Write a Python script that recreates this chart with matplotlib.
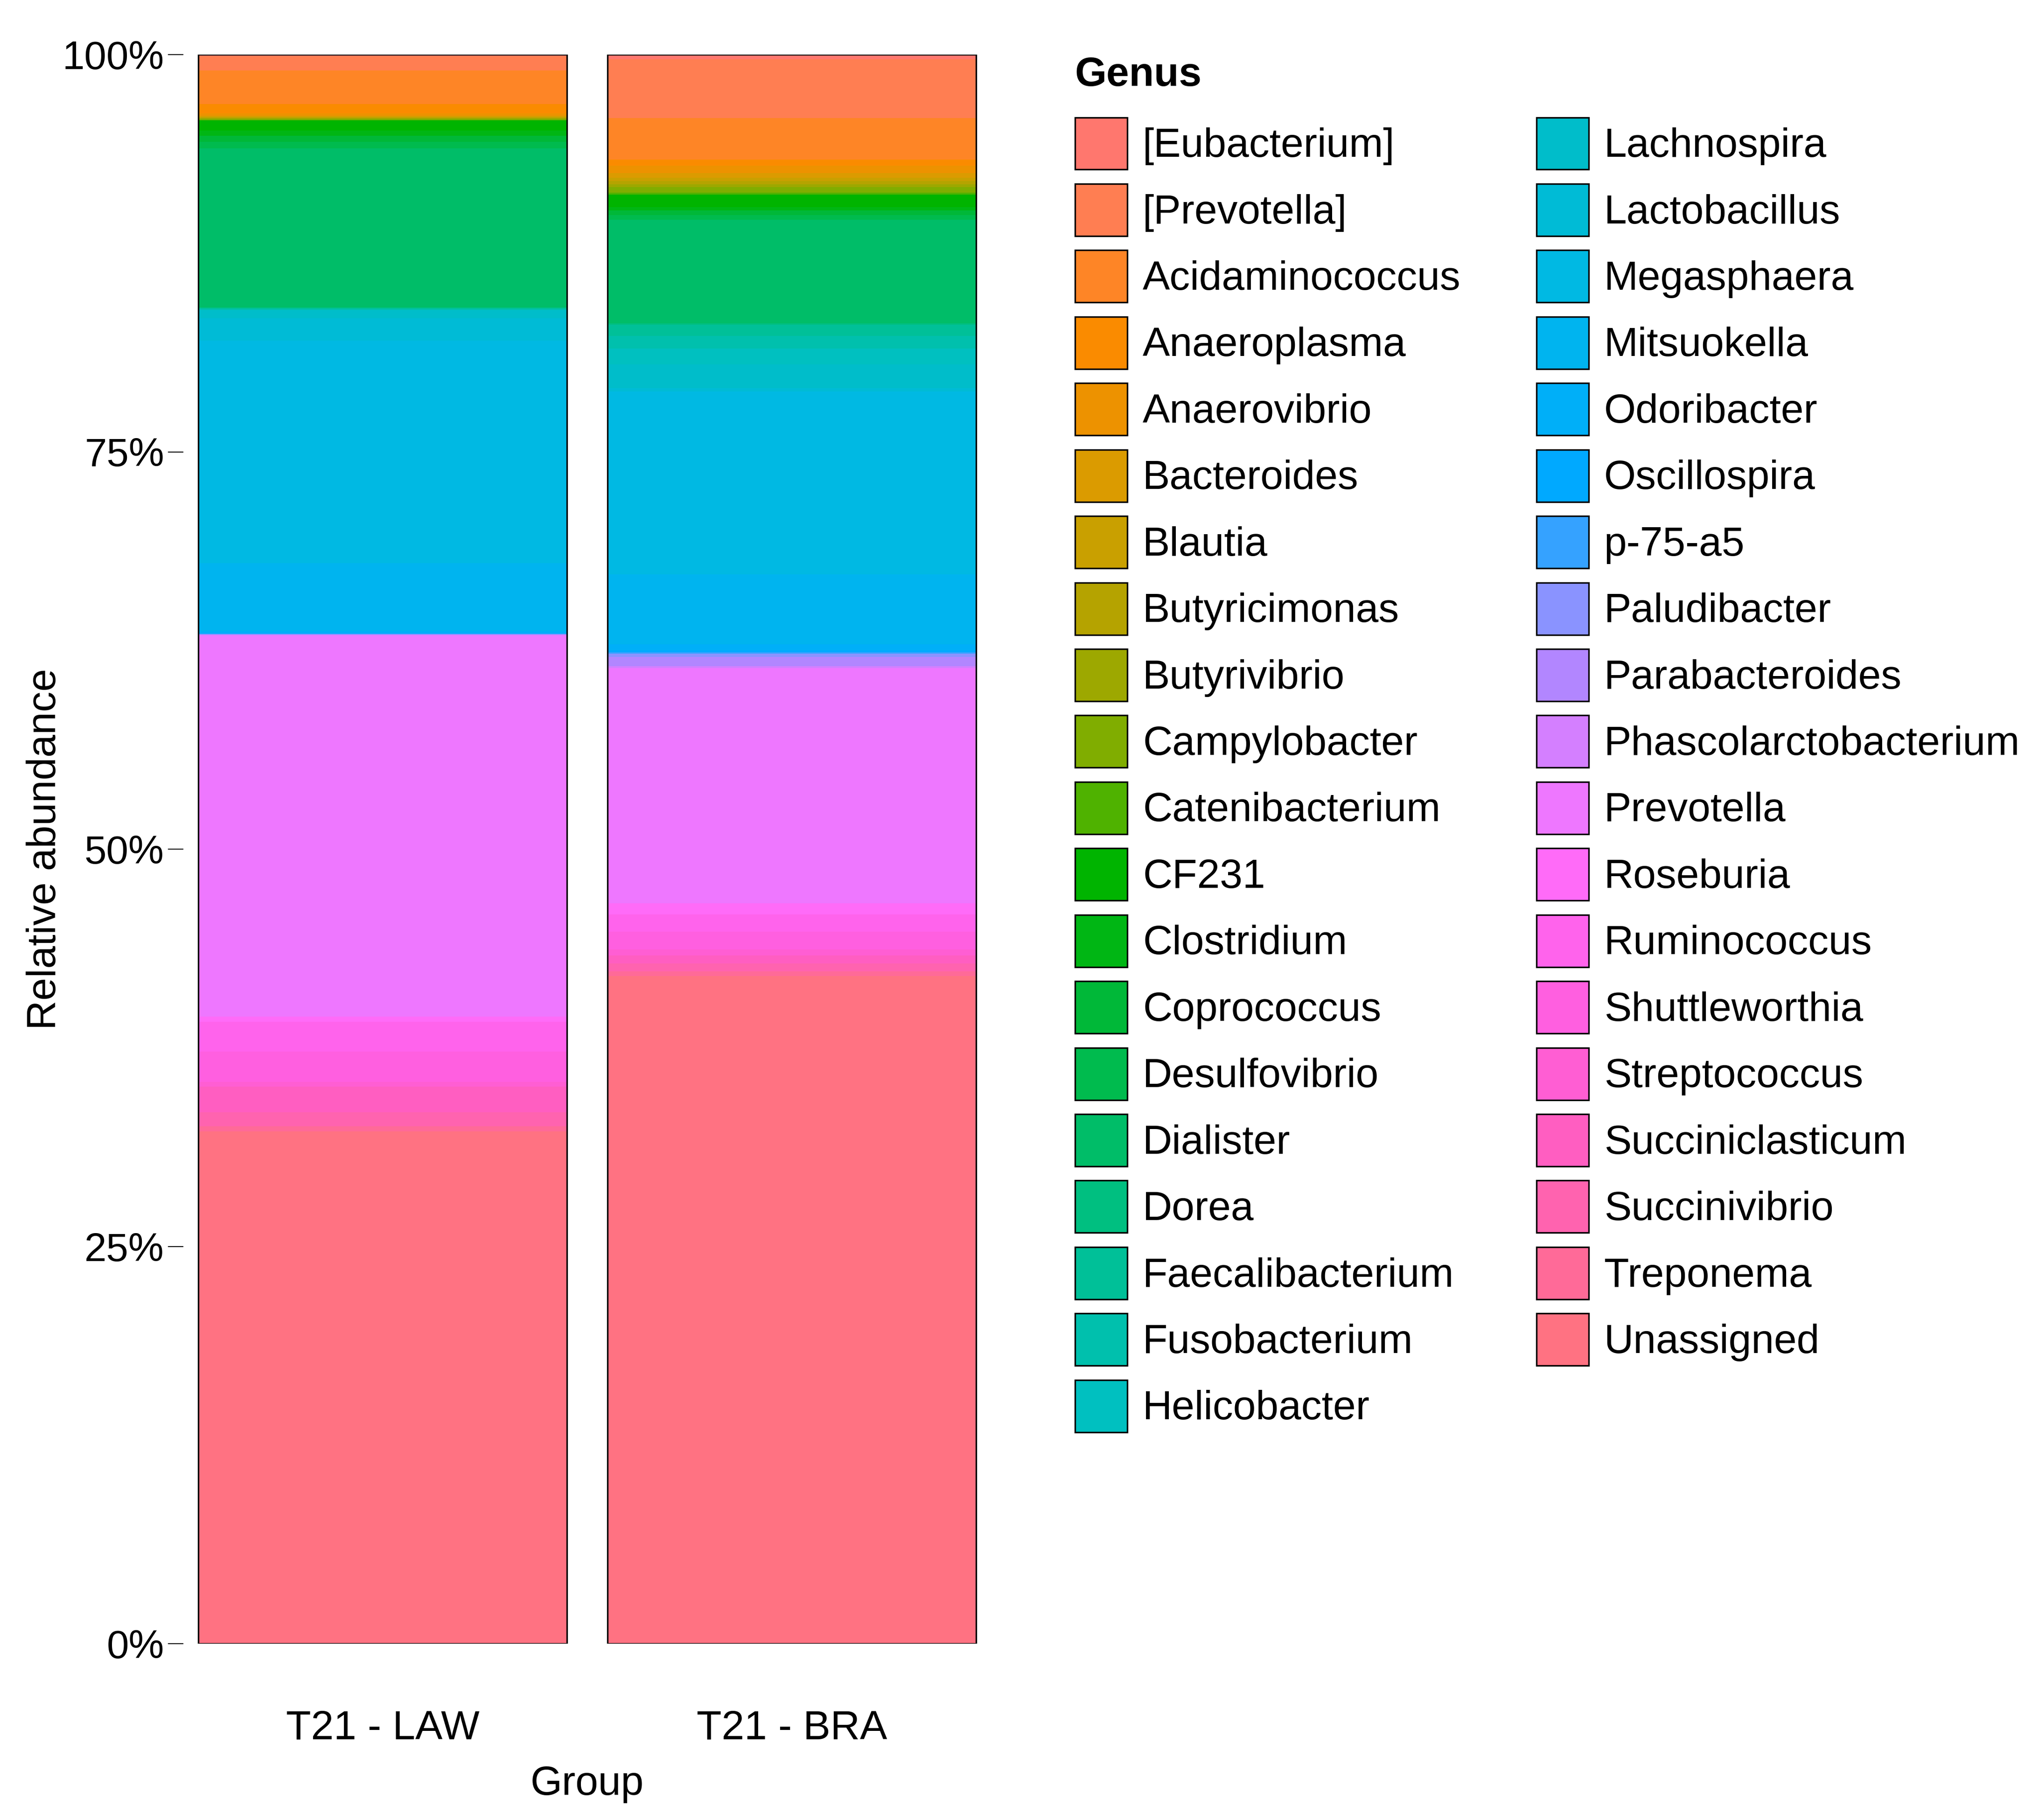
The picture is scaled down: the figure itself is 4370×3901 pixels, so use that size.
import numpy as np
import matplotlib
matplotlib.use("Agg")
import matplotlib.pyplot as plt
from matplotlib.patches import Patch

plt.rcParams['font.family'] = ['Liberation Sans', 'DejaVu Sans']

groups = ["T21 - LAW", "T21 - BRA"]

genera = ["[Eubacterium]", "[Prevotella]", "Acidaminococcus", "Anaeroplasma", "Anaerovibrio",
          "Bacteroides", "Blautia", "Butyricimonas", "Butyrivibrio", "Campylobacter",
          "Catenibacterium", "CF231", "Clostridium", "Coprococcus", "Desulfovibrio",
          "Dialister", "Dorea", "Faecalibacterium", "Fusobacterium", "Helicobacter",
          "Lachnospira", "Lactobacillus", "Megasphaera", "Mitsuokella", "Odoribacter",
          "Oscillospira", "p-75-a5", "Paludibacter", "Parabacteroides", "Phascolarctobacterium",
          "Prevotella", "Roseburia", "Ruminococcus", "Shuttleworthia", "Streptococcus",
          "Succiniclasticum", "Succinivibrio", "Treponema", "Unassigned"]

# relative abundance (%) per genus, same order as `genera`
law = [0.1, 0.9, 2.1, 0.6, 0.15,
       0.05, 0.05, 0.05, 0.05, 0.05,
       0.05, 0.65, 0.3, 0.4, 0.4,
       10.0, 0.05, 0.05, 0.05, 0.05,
       0.5, 1.4, 14.0, 4.3, 0.1,
       0.03, 0.03, 0.03, 0.03, 0.03,
       24.0, 0.3, 1.9, 1.9, 0.3,
       1.6, 0.9, 0.3, 32.25]

bra = [0.3, 3.7, 2.6, 0.4, 0.45,
       0.3, 0.2, 0.2, 0.2, 0.35,
       0.1, 0.8, 0.2, 0.3, 0.3,
       6.5, 0.1, 0.7, 0.8, 1.0,
       1.5, 0.2, 11.5, 4.4, 0.4,
       0.1, 0.1, 0.2, 0.6, 0.1,
       14.8, 0.7, 1.1, 1.1, 0.4,
       0.5, 0.5, 0.3, 42.0]

yticks = [0, 0.25, 0.5, 0.75, 1.0]
yticklabels = ["0%", "25%", "50%", "75%", "100%"]

# fill palette (one colour per genus, same order)
palette = ["#FF776E", "#FF7E52", "#FE8526", "#FA8B00", "#ED9200",
           "#DB9B00", "#C9A000", "#B5A300", "#9DA800", "#80AD00",
           "#4FB200", "#00B400", "#00B614", "#00B838", "#00BB4E",
           "#00BD68", "#00BF80", "#00C098", "#00C0AD", "#00C0C0",
           "#00BDCA", "#00BBD6", "#00B9E3", "#00B4EF", "#00AFF8",
           "#00A9FF", "#35A2FF", "#8A93FF", "#B286FF", "#D47FFF",
           "#EE77FF", "#FF6BF8", "#FF63EC", "#FF5FE0", "#FF5ED3",
           "#FF5EC1", "#FF63AF", "#FF6A98", "#FF7282"]

fig = plt.figure(figsize=(4370 / 300, 3901 / 300), dpi=300)
W, H = 4370, 3901
ax = fig.add_axes([393 / W, 1 - 3523 / H, (2124 - 393) / W, (3523 - 117) / H])

x = np.arange(len(groups))
data = np.array([law, bra], dtype=float)
data = data / data.sum(axis=1, keepdims=True)  # position = "fill"

width = 0.9
# first level on top: stack from the bottom with the last level
bottom = np.zeros(len(groups))
for i in range(len(genera) - 1, -1, -1):
    ax.bar(x, data[:, i], width=width, bottom=bottom, color=palette[i], linewidth=0)
    bottom = bottom + data[:, i]
# outline of each full bar
ax.bar(x, bottom, width=width, fill=False, edgecolor='black', linewidth=0.8)

ax.set_xlim(-0.487, 1.487)
ax.set_ylim(0, 1)
for s in ax.spines.values():
    s.set_visible(False)
ax.set_yticks(yticks)
ax.set_yticklabels(yticklabels, fontsize=20.5)
ax.set_xticks(x)
ax.set_xticklabels(groups, fontsize=21)
ax.tick_params(axis='y', length=7.9, width=0.5, pad=2, colors='black')
ax.tick_params(axis='x', length=0, pad=34)

ax.set_ylabel("Relative abundance", fontsize=21, va='center')
ax.yaxis.set_label_coords(-0.171, 0.5)
ax.set_xlabel("Group", fontsize=21, va='center')
ax.xaxis.set_label_coords(0.5, -0.0884)

handles = [Patch(facecolor=palette[i], edgecolor='black', linewidth=0.8, label=g)
           for i, g in enumerate(genera)]
leg = fig.legend(handles=handles, loc='upper left', bbox_to_anchor=(2260 / W, 1 - 77 / H),
                 ncol=2, frameon=False, fontsize=21, title="Genus",
                 title_fontproperties={'weight': 'bold', 'size': 21},
                 handlelength=1.28, handleheight=1.592, labelspacing=0.348,
                 handletextpad=0.38, columnspacing=1.85, borderpad=0, alignment='left')
leg._legend_box.sep = 0.34 * 21 + 20 * 72 / 300

fig.savefig("out.png", dpi=300)
